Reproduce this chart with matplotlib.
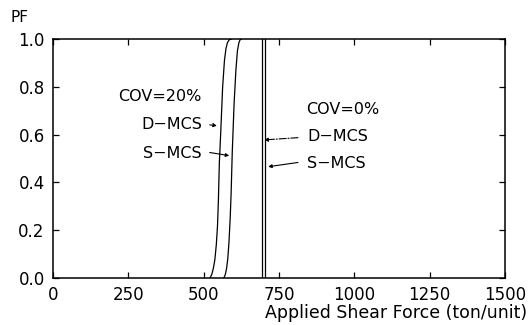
import matplotlib
matplotlib.use("Agg")
import matplotlib.pyplot as plt

# (shear force in ton/unit, PF = probability of failure)
cov20_dmcs_x = [521, 527, 532, 537, 542, 546, 549, 552, 557, 563, 569, 574, 579, 585, 592]
cov20_dmcs_pf = [0.0, 0.015, 0.04, 0.075, 0.14, 0.22, 0.33, 0.48, 0.62, 0.8, 0.91, 0.96, 0.985, 0.997, 1.0]

cov20_smcs_x = [567, 572, 576, 580, 584, 588, 591, 595, 601, 607, 612, 617, 621, 625]
cov20_smcs_pf = [0.0, 0.015, 0.04, 0.08, 0.15, 0.25, 0.35, 0.53, 0.73, 0.87, 0.95, 0.985, 0.997, 1.0]

cov0_dmcs_x = [692, 692]
cov0_dmcs_pf = [0.0, 1.0]
cov0_smcs_x = [703, 703]
cov0_smcs_pf = [0.0, 1.0]

xticks = [0, 250, 500, 750, 1000, 1250, 1500]
yticks = [0.0, 0.2, 0.4, 0.6, 0.8, 1.0]

plt.rcParams['font.family'] = ['DejaVu Sans']

fig = plt.figure(figsize=(5.29, 3.25), dpi=100)
ax = fig.add_axes([0.1002, 0.1446, 0.8544, 0.7354])

for xs, ys in [(cov20_dmcs_x, cov20_dmcs_pf), (cov20_smcs_x, cov20_smcs_pf),
               (cov0_dmcs_x, cov0_dmcs_pf), (cov0_smcs_x, cov0_smcs_pf)]:
    ax.plot(xs, ys, color="black", linewidth=0.9)

ax.set_xlim(0, 1500)
ax.set_ylim(0, 1)
ax.set_xticks(xticks)
ax.set_yticks(yticks)
ax.set_xticklabels([str(t) for t in xticks])
ax.set_yticklabels(["%.1f" % t for t in yticks])
ax.tick_params(direction="in", length=4, width=0.9, top=True, right=True,
               labelsize=12, pad=6)
for sp in ax.spines.values():
    sp.set_linewidth(1.1)

# COV = 20 % group
fs = 11.5
ax.text(494, 0.76, "COV=20%", ha="right", va="center", fontsize=fs)
ax.text(494, 0.644, "D\u2212MCS", ha="right", va="center", fontsize=fs)
ax.text(494, 0.523, "S\u2212MCS", ha="right", va="center", fontsize=fs)
ax.annotate("", xy=(553, 0.636), xytext=(511, 0.642),
            arrowprops=dict(arrowstyle="-|>", color="black", lw=0.8,
                            linestyle="-.", mutation_scale=5))
ax.annotate("", xy=(594, 0.51), xytext=(511, 0.527),
            arrowprops=dict(arrowstyle="-|>", color="black", lw=0.8,
                            mutation_scale=5))

# COV = 0 % group
ax.text(840, 0.703, "COV=0%", ha="left", va="center", fontsize=fs)
ax.text(843, 0.59, "D\u2212MCS", ha="left", va="center", fontsize=fs)
ax.text(843, 0.481, "S\u2212MCS", ha="left", va="center", fontsize=fs)
ax.annotate("", xy=(692, 0.577), xytext=(822, 0.588),
            arrowprops=dict(arrowstyle="-|>", color="black", lw=0.8,
                            linestyle="-.", mutation_scale=5))
ax.annotate("", xy=(705, 0.464), xytext=(822, 0.485),
            arrowprops=dict(arrowstyle="-|>", color="black", lw=0.8,
                            mutation_scale=5))

fig.text(10 / 529, 1 - 18 / 325, "PF", ha="left", va="center", fontsize=11)
fig.text(527 / 529, 1 - 313 / 325, "Applied Shear Force (ton/unit)",
         ha="right", va="center", fontsize=12.5)

fig.savefig("out.png", dpi=100)
